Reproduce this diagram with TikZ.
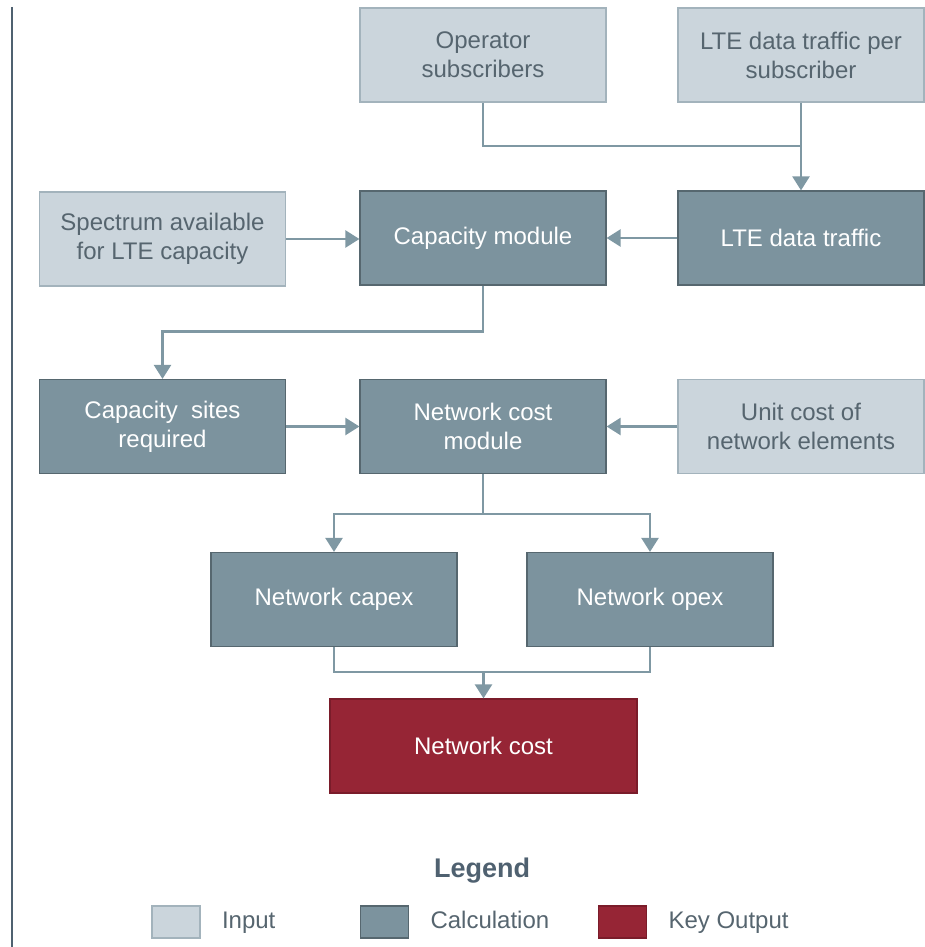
\documentclass[tikz,border=0pt]{standalone}
\usepackage{fontspec}
\setmainfont{Liberation Sans}
\usetikzlibrary{arrows.meta}

\definecolor{inputfill}{HTML}{CBD5DC}
\definecolor{inputline}{HTML}{A3B3BC}
\definecolor{inputtext}{HTML}{56656F}
\definecolor{calcfill}{HTML}{7C939E}
\definecolor{calcline}{HTML}{56676F}
\definecolor{outfill}{HTML}{962535}
\definecolor{outline}{HTML}{7A1C2A}
\definecolor{linkcol}{HTML}{7F98A3}
\definecolor{rulecol}{HTML}{4F6170}

\begin{document}
\begin{tikzpicture}[x=0.5pt, y=-0.5pt,
    every node/.style={font=\fontsize{12}{14.5}\selectfont, align=center},
    inbox/.style={fill=inputfill, draw=inputline, line width=.6pt, text=inputtext, minimum width=123pt, minimum height=47pt, inner sep=0pt},
    calcbox/.style={fill=calcfill, draw=calcline, line width=.6pt, text=white, minimum width=123pt, minimum height=47pt, inner sep=0pt},
    outbox/.style={fill=outfill, draw=outline, line width=.6pt, text=white, minimum width=153.5pt, minimum height=47pt, inner sep=0pt},
    link/.style={draw=linkcol, line width=1.2pt},
    linkarr/.style={link, -{Triangle[length=7pt, width=8.5pt]}},
    keysq/.style={minimum width=24pt, minimum height=16pt, inner sep=0pt, line width=.6pt},
    keytext/.style={anchor=west, text=inputtext, inner sep=0pt, xshift=10.5pt, text height=9pt, text depth=2.5pt}]
\useasboundingbox (0,0) rectangle (925,947);
% side rule
\draw[rulecol, line width=1.2pt] (12,7) -- (12,947);
% boxes
\draw (483,55) node[inbox] (op) {Operator\\subscribers};
\draw (801,55) node[inbox] (ltesub) {LTE data traffic per\\subscriber};
\draw (162.5,239) node[inbox] (spec) {Spectrum available\\for LTE capacity};
\draw (483,238) node[calcbox] (cap) {Capacity module};
\draw (801,238) node[calcbox] (lte) {LTE data traffic};
\draw (162.5,426.5) node[calcbox] (sites) {Capacity\ \ sites\\required};
\draw (483,426.5) node[calcbox] (ncm) {Network cost\\module};
\draw (801,426.5) node[inbox] (unit) {Unit cost of\\network elements};
\draw (334,599.5) node[calcbox] (capex) {Network capex};
\draw (650,599.5) node[calcbox] (opex) {Network opex};
\draw (483.5,746) node[outbox] (cost) {Network cost};
% connectors
\coordinate (j1) at (801,146);
\coordinate (j4) at (483.5,672);
\draw[link] (op.south) |- (j1);
\draw[linkarr] (ltesub.south) -- (lte.north);
\draw[linkarr] (lte.west) -- (cap.east);
\draw[linkarr] (spec.east) -- (spec.east -| cap.west);
\draw[linkarr] (cap.south) -- ++(0,46) -| (sites.north);
\draw[linkarr] (sites.east) -- (ncm.west);
\draw[linkarr] (unit.west) -- (ncm.east);
\draw[linkarr] (ncm.south) -- ++(0,40) -| (capex.north);
\draw[linkarr] (ncm.south) -- ++(0,40) -| (opex.north);
\draw[link] (capex.south) |- (j4) -| (opex.south);
\draw[linkarr] (j4) -- (cost.north);
% legend
\draw (482,871) node[font=\fontsize{13.5}{16}\selectfont\bfseries, text=rulecol] (leg) {Legend};
\draw (176,922) node[keysq, fill=inputfill, draw=inputline] (kin) {};
\draw (384.5,922) node[keysq, fill=calcfill, draw=calcline] (kcalc) {};
\draw (622.5,922) node[keysq, fill=outfill, draw=outline] (kout) {};
\node[keytext] (tin) at (kin.east) {Input};
\node[keytext] (tcalc) at (kcalc.east) {Calculation};
\node[keytext] (tout) at (kout.east) {Key Output};
\end{tikzpicture}
\end{document}
